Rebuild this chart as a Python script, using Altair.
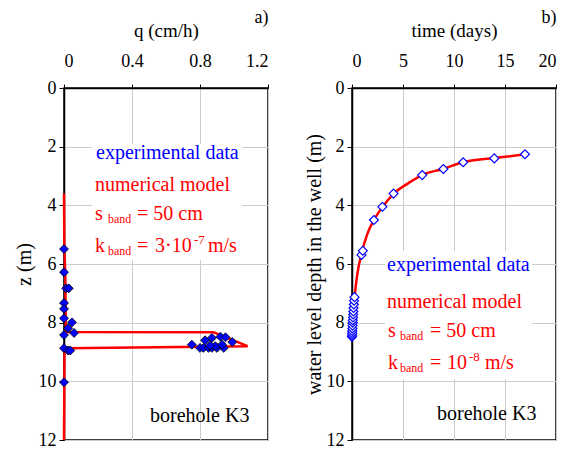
import altair as alt
import pandas as pd

# ---- panel a: flow profile ----
q_exp = [0.0, 0.0, 0.013, 0.028, 0.0, 0.0, 0.0, 0.047, 0.024, 0.059, 0.0, 0.0, 0.024, 0.037, 0.0,
         0.752, 0.80, 0.82, 0.85, 0.87, 0.90, 0.94, 0.83, 0.87, 0.92, 0.95, 0.99, 0.89, 0.93, 0.86]
z_exp = [5.49, 6.28, 6.83, 6.83, 7.33, 7.53, 7.85, 7.99, 8.19, 8.35, 8.42, 8.87, 8.95, 8.95, 10.03,
         8.75, 8.86, 8.86, 8.86, 8.86, 8.86, 8.86, 8.60, 8.52, 8.48, 8.50, 8.66, 8.80, 8.75, 8.78]
q_mod = [0.0, 0.002, 0.008, 0.010, 0.012, 0.88, 1.08, 0.01, 0.003, 0.0]
z_mod = [3.6, 5.3, 6.5, 8.0, 8.32, 8.33, 8.80, 8.87, 9.0, 12.0]

# ---- panel b: water level recovery ----
t_exp = [0.0, 0.01, 0.02, 0.03, 0.04, 0.05, 0.07, 0.08, 0.10, 0.12, 0.13, 0.15, 0.18, 0.20, 0.25,
         0.93, 1.06, 2.15, 2.98, 4.07, 6.88, 8.96, 10.9, 13.95, 16.96]
d_exp = [8.48, 8.43, 8.36, 8.28, 8.20, 8.10, 8.00, 7.92, 7.82, 7.72, 7.62, 7.50, 7.38, 7.25, 7.13,
         5.69, 5.55, 4.50, 4.05, 3.60, 2.97, 2.76, 2.53, 2.40, 2.26]
t_mod = [0.0, 0.1, 0.25, 0.5, 0.95, 1.5, 2.15, 3.0, 4.1, 5.5, 6.9, 8.9, 10.9, 13.9, 17.0]
d_mod = [8.5, 7.85, 7.15, 6.4, 5.62, 4.98, 4.5, 4.05, 3.6, 3.25, 2.96, 2.76, 2.53, 2.39, 2.26]

q_ticks = [0, 0.4, 0.8, 1.2]
t_ticks = [0, 5, 10, 15, 20]
z_ticks = [0, 2, 4, 6, 8, 10, 12]

FONT = "'Liberation Serif', 'DejaVu Serif', serif"
BLUE = "#0000FF"
RED = "#FF0000"
W, H = 204, 352

exp_a = pd.DataFrame({"q": q_exp, "z": z_exp})
mod_a = pd.DataFrame({"q": q_mod, "z": z_mod, "i": list(range(len(q_mod)))})
exp_b = pd.DataFrame({"t": t_exp, "d": d_exp})
mod_b = pd.DataFrame({"t": t_mod, "d": d_mod})

one = alt.Data(values=[{}])


def txt(s, x, y, color, size=20):
    return alt.Chart(one).mark_text(
        text=s, align="left", baseline="alphabetic", font=FONT, fontSize=size, color=color
    ).encode(x=alt.value(x), y=alt.value(y))


def box(x1, x2, y1, y2):
    return alt.Chart(one).mark_rect(fill="white").encode(
        x=alt.value(x1), x2=alt.value(x2), y=alt.value(y1), y2=alt.value(y2)
    )


yaxis_common = dict(values=z_ticks, grid=True, tickSize=5, labelPadding=3,
                    labelFontSize=18, titleFontSize=20, titleFontWeight="normal",
                    labelFont=FONT, titleFont=FONT)

xaxis_common = dict(orient="top", tickSize=4, labelPadding=14, titlePadding=12,
                    labelFontSize=18, titleFontSize=19, titleFontWeight="normal",
                    labelFont=FONT, titleFont=FONT)

SUB = 12
SUP = 13

# panel a
xa = alt.X("q:Q", scale=alt.Scale(domain=[0, 1.2], nice=False),
           axis=alt.Axis(values=q_ticks, title="q (cm/h)",
                         labelExpr="datum.value == 0 ? '0' : format(datum.value, '.1f')",
                         **xaxis_common))
ya = alt.Y("z:Q", scale=alt.Scale(domain=[0, 12], reverse=True, nice=False),
           axis=alt.Axis(title="z (m)", titlePadding=4, **yaxis_common))

line_a = alt.Chart(mod_a).mark_line(color=RED, strokeWidth=2.5).encode(x=xa, y=ya, order="i:Q")
pts_a = alt.Chart(exp_a).mark_point(shape="diamond", filled=True, fill=BLUE, stroke="black",
                                    strokeWidth=0.8, size=80, opacity=1).encode(x=xa, y=ya)

panel_a = alt.layer(
    box(28, 178, 56, 172),
    line_a, pts_a,
    txt("experimental data", 32, 71, BLUE),
    txt("numerical model", 31, 103, RED),
    txt("s", 31, 132, RED), txt("band", 44, 135, RED, SUB), txt("= 50 cm", 73, 132, RED),
    txt("k", 31, 164, RED), txt("band", 44, 167, RED, SUB), txt("=", 73, 164, RED),
    txt("3·10", 91, 164, RED), txt("-7", 130, 156, RED, SUP), txt("m/s", 144, 164, RED),
    txt("borehole K3", 86, 334, "black"),
).properties(width=W, height=H,
             title=alt.TitleParams("a)", anchor="end", fontSize=18, font=FONT,
                                   fontWeight="normal", offset=-6))

# panel b
xb = alt.X("t:Q", scale=alt.Scale(domain=[0, 20], nice=False),
           axis=alt.Axis(values=t_ticks, title="time (days)", **xaxis_common))
yb = alt.Y("d:Q", scale=alt.Scale(domain=[0, 12], reverse=True, nice=False),
           axis=alt.Axis(title="water level depth in the well (m)", titlePadding=2, **yaxis_common))

line_b = alt.Chart(mod_b).mark_line(color=RED, strokeWidth=2.5, interpolate="monotone").encode(
    x=xb, y=yb, order="t:Q")
pts_b = alt.Chart(exp_b).mark_point(shape="diamond", filled=False, fill="white", stroke=BLUE,
                                    strokeWidth=1.2, size=80, opacity=1).encode(x=xb, y=yb)

panel_b = alt.layer(
    box(33, 180, 163, 291),
    line_b, pts_b,
    txt("experimental data", 35, 183, BLUE),
    txt("numerical model", 35, 220, RED),
    txt("s", 36, 249, RED), txt("band", 48, 252, RED, SUB), txt("= 50 cm", 78, 249, RED),
    txt("k", 36, 281, RED), txt("band", 48, 284, RED, SUB), txt("=", 78, 281, RED),
    txt("10", 95, 281, RED), txt("-8", 117, 273, RED, SUP), txt("m/s", 133, 281, RED),
    txt("borehole K3", 85, 332, "black"),
).properties(width=W, height=H,
             title=alt.TitleParams("b)", anchor="end", fontSize=18, font=FONT,
                                   fontWeight="normal", offset=-6))

chart = alt.hconcat(panel_a, panel_b, spacing=33).properties(
    padding={"left": 5, "top": 0, "right": 5, "bottom": 5}
).configure(
    font=FONT, background="white"
).configure_view(stroke="black", strokeWidth=1.5).configure_axis(
    labelColor="black", titleColor="black",
    domainColor="black", domainWidth=1.5, tickColor="black",
    gridColor="#cccccc", gridWidth=1
)

chart.save("out.html", embed_options={"renderer": "svg", "actions": False})
